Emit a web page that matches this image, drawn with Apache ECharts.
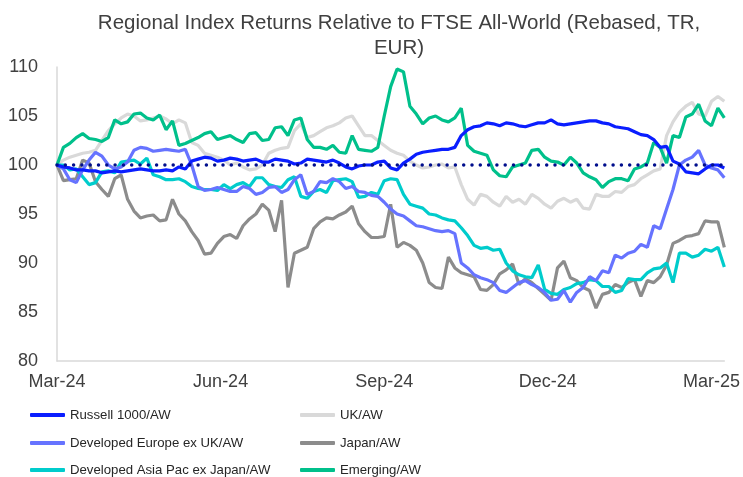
<!DOCTYPE html>
<html>
<head>
<meta charset="utf-8">
<script src="https://cdn.jsdelivr.net/npm/echarts@6/dist/echarts.min.js"></script>
<style>
  html, body { margin: 0; padding: 0; background: #fff; }
  #chart { width: 743px; height: 477px; }
</style>
</head>
<body>
<div id="chart"></div>
<script>
// half-weekly readings, point 0 = start of Mar-24
var tickLabels = ['Mar-24', 'Jun-24', 'Sep-24', 'Dec-24', 'Mar-25'];
var tickStep = 12.75; // weeks between labelled ticks
var pointStep = 0.5;  // weeks between readings

var russell = [100, 99.8, 99.7, 99.5, 99.5, 99.4, 99.4, 99.2, 99.3, 99.4, 99.3, 99.4, 99.5, 99.6, 99.5, 99.4, 99.4, 99.5, 99.4, 99.8,
  99.6, 100.4, 100.6, 100.8, 100.7, 100.4, 100.5, 100.7, 100.6, 100.4, 100.5, 100.6, 100.3, 100.3, 100.6, 100.5, 100.4, 100.1, 100.2, 100.6,
  100.5, 100.4, 100.3, 100.5, 100.2, 99.8, 99.6, 99.9, 100.0, 100.0, 100.3, 100.4, 99.7, 99.5, 100.2, 100.6, 101.1, 101.3, 101.4, 101.5,
  101.6, 101.6, 101.8, 103.0, 103.6, 103.9, 104.0, 104.3, 104.2, 104.0, 104.3, 104.2, 104.0, 103.9, 104.1, 104.3, 104.3, 104.6, 104.2, 104.1,
  104.2, 104.3, 104.4, 104.5, 104.5, 104.3, 104.2, 103.9, 103.8, 103.7, 103.4, 103.1, 103.0, 102.6, 101.8, 101.9, 100.4, 100.1, 99.3, 99.2,
  99.1, 99.6, 100.0, 100.0, 99.7];
var uk = [100, 100.5, 100.8, 101.0, 101.2, 101.3, 101.5, 102.5, 103.5, 104.2, 104.8, 105.2, 105.0, 104.5, 104.6, 104.8, 105.0, 104.7, 104.2, 104.6,
  104.3, 102.3, 102.0, 101.2, 101.0, 100.8, 100.5, 100.0, 100.2, 99.8, 99.5, 99.6, 100.0, 101.2, 101.5, 101.7, 101.8, 103.5, 104.2, 102.8,
  103.0, 103.4, 103.8, 104.0, 104.3, 104.8, 105.0, 104.0, 103.0, 103.0, 102.5, 102.0, 101.5, 101.2, 101.0, 100.4, 100.0, 99.7, 99.8, 100.0,
  100.1, 99.7, 99.8, 98.0, 96.5, 95.9, 97.0, 96.8, 96.2, 95.8, 96.8, 96.2, 96.5, 96.0, 97.0, 96.6, 96.0, 95.6, 96.3, 96.6,
  96.2, 96.5, 95.6, 95.5, 97.0, 96.8, 96.8, 97.3, 97.2, 97.8, 98.0, 98.6, 99.0, 99.4, 99.6, 103.0, 104.4, 105.4, 106.0, 106.4,
  105.2, 105.0, 106.5, 107.0, 106.5];
var devEurope = [100, 99.6, 98.5, 98.2, 99.5, 100.5, 101.3, 100.9, 100.0, 99.6, 99.8, 100.3, 101.5, 101.8, 101.7, 101.4, 101.5, 101.6, 101.5, 101.4,
  101.6, 100.0, 97.8, 97.4, 97.5, 97.7, 97.5, 97.3, 97.3, 97.8, 97.6, 97.0, 97.2, 97.7, 97.8, 97.2, 97.5, 98.5, 99.0, 97.0,
  97.3, 98.3, 98.2, 98.6, 98.3, 97.6, 97.8, 97.3, 97.2, 96.9, 96.8, 96.2, 95.5, 95.0, 94.8, 94.3, 93.8, 93.7, 93.5, 93.3,
  93.2, 93.3, 93.0, 90.0, 89.5, 88.8, 88.5, 88.3, 88.0, 87.2, 87.0, 87.5, 88.0, 88.2, 87.8, 87.5, 87.0, 86.2, 86.3, 87.2,
  86.0, 87.0, 87.5, 88.6, 88.2, 89.2, 89.0, 90.8, 90.5, 91.0, 91.2, 91.9, 91.6, 93.8, 93.5, 95.5, 97.5, 100.0, 100.5, 100.8,
  101.5, 100.0, 99.7, 99.5, 98.7];
var japan = [100, 98.4, 98.5, 98.6, 100.5, 100.2, 98.3, 97.5, 96.8, 98.6, 99.0, 96.5, 95.3, 94.6, 94.8, 94.9, 94.3, 94.4, 96.5, 95.0,
  94.3, 93.2, 92.3, 90.9, 91.0, 92.0, 92.7, 92.9, 92.5, 93.8, 94.5, 95.0, 96.0, 95.4, 93.2, 96.4, 87.5, 91.0, 91.3, 91.6,
  93.5, 94.2, 94.6, 94.5, 94.9, 95.2, 95.8, 94.0, 93.2, 92.6, 92.6, 92.7, 96.0, 91.6, 92.1, 91.8, 91.3, 90.0, 88.0, 87.5,
  87.4, 90.6, 89.5, 89.0, 88.8, 88.6, 87.3, 87.2, 87.8, 88.9, 89.3, 89.9, 87.8, 88.4, 88.0, 87.4, 86.8, 86.2, 89.5, 90.2,
  88.5, 88.2, 87.5, 87.2, 85.4, 86.8, 87.0, 87.8, 87.5, 88.0, 88.3, 86.6, 88.2, 88.0, 88.6, 89.8, 92.0, 92.3, 92.7, 92.8,
  93.0, 94.3, 94.2, 94.2, 91.6];
var asiaPac = [100, 100.0, 99.5, 99.6, 98.8, 98.0, 98.2, 99.3, 99.4, 99.2, 100.3, 100.4, 100.5, 100.1, 100.7, 99.0, 98.8, 98.5, 98.5, 98.6,
  98.3, 97.8, 97.6, 97.5, 97.5, 97.4, 98.0, 97.6, 98.0, 98.2, 97.8, 98.7, 98.7, 98.0, 97.8, 97.7, 98.5, 98.8, 96.8, 96.6,
  97.3, 97.5, 97.2, 98.4, 98.5, 98.6, 98.3, 96.7, 96.8, 97.2, 97.0, 98.4, 98.6, 98.5, 97.0, 96.0, 95.8, 95.6, 95.0, 94.9,
  94.6, 94.4, 94.3, 93.6, 92.8, 91.8, 91.5, 91.6, 91.3, 91.4, 90.0, 89.2, 88.8, 88.6, 88.5, 89.8, 87.3, 86.9, 86.8, 87.3,
  87.5, 87.9, 88.0, 88.3, 88.2, 87.6, 87.6, 87.0, 87.2, 88.4, 88.3, 88.3, 89.0, 89.4, 89.5, 90.0, 88.0, 91.0, 91.0, 90.6,
  90.8, 91.4, 91.2, 91.6, 89.6];
var emerging = [100, 101.8, 102.2, 102.8, 103.2, 102.7, 102.6, 102.4, 102.8, 104.6, 104.2, 104.4, 105.2, 105.3, 104.8, 104.6, 105.1, 103.6, 104.5, 102.0,
  102.2, 102.5, 102.8, 103.2, 103.4, 102.6, 102.8, 103.0, 102.6, 102.3, 103.2, 103.3, 102.5, 102.6, 103.8, 103.9, 103.0, 104.6, 104.8, 102.6,
  101.8, 101.8, 101.6, 102.0, 101.3, 101.2, 103.0, 101.6, 101.5, 101.4, 101.8, 105.0, 108.0, 109.8, 109.5, 106.0, 105.2, 104.2, 104.8, 105.0,
  104.6, 104.4, 104.8, 105.8, 102.0, 101.4, 101.2, 101.0, 99.5, 98.9, 98.8, 99.8, 100.0, 100.2, 101.5, 101.6, 100.8, 100.4, 100.3, 100.0,
  100.8, 100.2, 99.2, 98.8, 98.5, 97.7, 98.3, 98.6, 98.6, 98.4, 99.6, 99.8, 100.2, 102.3, 101.8, 100.2, 103.0, 102.8, 104.9, 105.2,
  106.2, 104.5, 104.0, 105.8, 104.8];

var chart = echarts.init(document.getElementById('chart'));

function pairs(arr) {
  return arr.map(function (v, i) { return [i * pointStep, v]; });
}

function makeSeries(name, arr, color) {
  return {
    name: name,
    type: 'line',
    data: pairs(arr),
    showSymbol: false,
    symbol: 'none',
    lineStyle: { color: color, width: 3.2 },
    itemStyle: { color: color },
    emphasis: { disabled: true }
  };
}

var textFont = 'Liberation Sans, Arial, sans-serif';

var series = [
  makeSeries('UK/AW', uk, '#D9D9D9'),
  makeSeries('Japan/AW', japan, '#8C8C8C'),
  makeSeries('Developed Asia Pac ex Japan/AW', asiaPac, '#00CCCC'),
  makeSeries('Developed Europe ex UK/AW', devEurope, '#6673FF'),
  makeSeries('Emerging/AW', emerging, '#00C08B'),
  makeSeries('Russell 1000/AW', russell, '#0A1EFF')
];
series[5].markLine = {
  silent: true,
  symbol: 'none',
  label: { show: false },
  lineStyle: { color: '#000E8C', width: 3.5, type: [0, 8.3], cap: 'round' },
  data: [{ yAxis: 100 }]
};

// legend slots: [name, left, top]
var legendSlots = [
  ['Russell 1000/AW', 30, 407],
  ['UK/AW', 300, 407],
  ['Developed Europe ex UK/AW', 30, 435],
  ['Japan/AW', 300, 435],
  ['Developed Asia Pac ex Japan/AW', 30, 462],
  ['Emerging/AW', 300, 462]
];
var legends = legendSlots.map(function (s) {
  return {
    data: [s[0]],
    left: s[1],
    top: s[2],
    padding: 0,
    itemWidth: 35,
    itemHeight: 4,
    icon: 'roundRect',
    textStyle: { fontFamily: textFont, fontSize: 13.2, color: '#262626', lineHeight: 16 }
  };
});

var option = {
  animation: false,
  title: {
    text: 'Regional Index Returns Relative to FTSE All-World (Rebased, TR,\nEUR)',
    left: 394,
    top: 6,
    textAlign: 'center',
    textStyle: { fontFamily: textFont, fontSize: 20.5, fontWeight: 'normal', color: '#404040', lineHeight: 25 }
  },
  legend: legends,
  grid: { left: 57, right: 18, top: 67, bottom: 116, containLabel: false },
  xAxis: {
    type: 'value',
    min: 0,
    max: 52,
    interval: tickStep,
    axisLine: { show: true, lineStyle: { color: '#D9D9D9', width: 1.5 } },
    axisTick: { show: false },
    splitLine: { show: false },
    axisLabel: {
      margin: 12,
      fontFamily: textFont,
      fontSize: 18,
      color: '#404040',
      showMaxLabel: true,
      formatter: function (v) {
        var i = Math.round(v / tickStep);
        return Math.abs(v - i * tickStep) < 0.01 ? (tickLabels[i] || '') : '';
      }
    }
  },
  yAxis: {
    type: 'value',
    min: 80,
    max: 110,
    interval: 5,
    axisLine: { show: true, lineStyle: { color: '#D9D9D9', width: 1.5 } },
    axisTick: { show: false },
    splitLine: { show: false },
    axisLabel: { margin: 19, fontFamily: textFont, fontSize: 18, color: '#404040' }
  },
  series: series
};

chart.setOption(option);
</script>
</body>
</html>
